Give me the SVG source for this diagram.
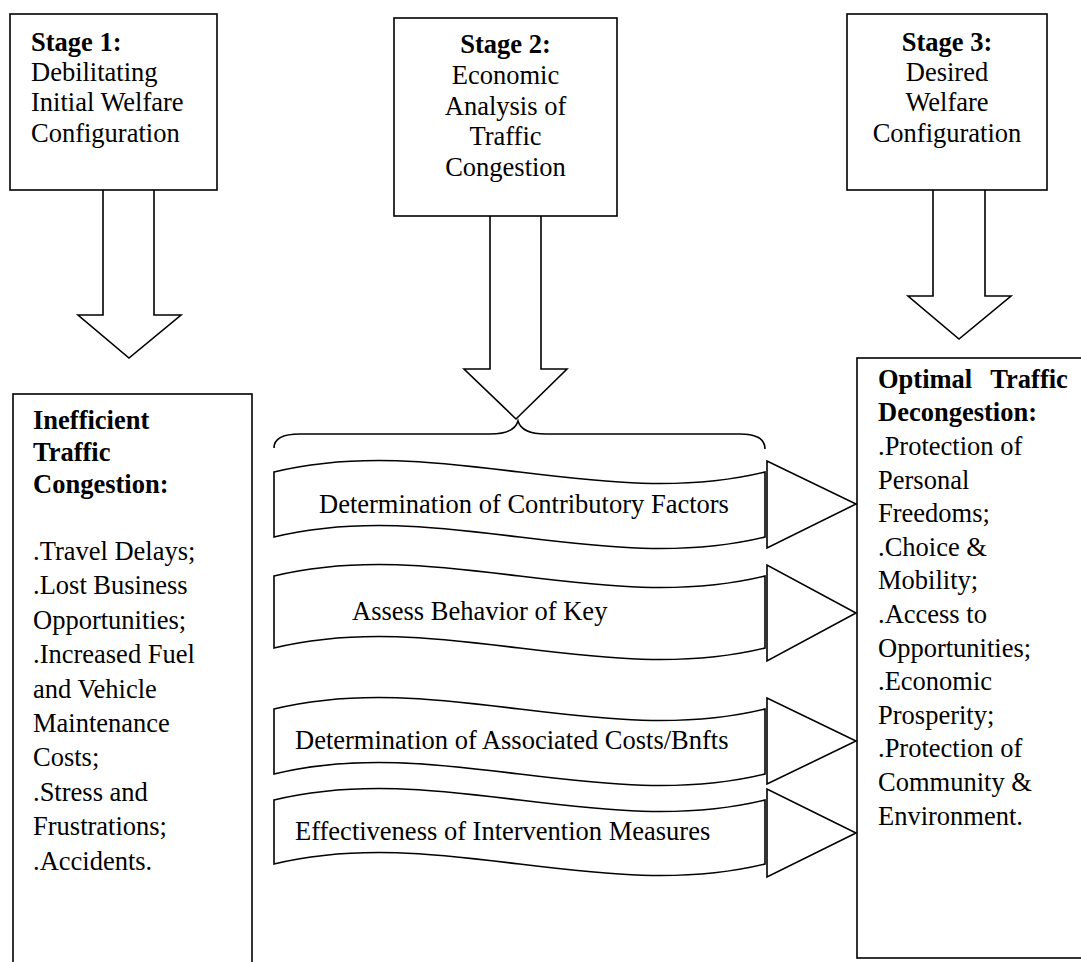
<svg xmlns="http://www.w3.org/2000/svg" width="1081" height="962" viewBox="0 0 1081 962">
<style>
.box{fill:#fff;stroke:#000;stroke-width:1.6}
.arr{fill:#fff;stroke:#000;stroke-width:1.6;stroke-linejoin:miter}
.t{font-family:"Liberation Serif","Times New Roman",serif;font-size:26.5px;fill:#000}
.b{font-weight:bold}
.c{text-anchor:middle}
</style>
<rect width="1081" height="962" fill="#fff"/>
<g id="connectors">
<polyline class="arr" points="103,190 103,315 78,315 129,358 181,315 154,315 154,190"/>
<polyline class="arr" points="490,216 490,369 464,369 516,419 567,369 541,369 541,216"/>
<polyline class="arr" points="933,190 933,296 908,296 959,339 1011,296 985,296 985,190"/>
<path class="arr" fill="none" style="fill:none" d="M274,448 C274,438 284,434 300,434 L490,434 C508,434 516,428 518,421 C520,428 528,434 546,434 L740,434 C756,434 765,438 765,449"/>
</g>
<g id="stage1">
<rect class="box" x="10" y="14" width="207" height="176"/>
<text class="t b" x="31" y="50.5">Stage 1:</text>
<text class="t" x="31" y="80.5">Debilitating</text>
<text class="t" x="31" y="111">Initial Welfare</text>
<text class="t" x="31" y="141.5">Configuration</text>
</g>
<g id="stage2">
<rect class="box" x="394" y="18" width="223" height="198"/>
<text class="t b c" x="505.5" y="53.3">Stage 2:</text>
<text class="t c" x="505.5" y="84">Economic</text>
<text class="t c" x="505.5" y="114.7">Analysis of</text>
<text class="t c" x="505.5" y="145.4">Traffic</text>
<text class="t c" x="505.5" y="176">Congestion</text>
</g>
<g id="stage3">
<rect class="box" x="847" y="14" width="200" height="176"/>
<text class="t b c" x="947" y="50.5">Stage 3:</text>
<text class="t c" x="947" y="80.5">Desired</text>
<text class="t c" x="947" y="111">Welfare</text>
<text class="t c" x="947" y="141.5">Configuration</text>
</g>
<g id="inefficient">
<rect class="box" x="13" y="394" width="239" height="590"/>
<text class="t b" x="33" y="429">Inefficient</text>
<text class="t b" x="33" y="461">Traffic</text>
<text class="t b" x="33" y="493">Congestion:</text>
<text class="t" x="33" y="560">.Travel Delays;</text>
<text class="t" x="33" y="594.4">.Lost Business</text>
<text class="t" x="33" y="628.8">Opportunities;</text>
<text class="t" x="33" y="663.2">.Increased Fuel</text>
<text class="t" x="33" y="697.6">and Vehicle</text>
<text class="t" x="33" y="732">Maintenance</text>
<text class="t" x="33" y="766.4">Costs;</text>
<text class="t" x="33" y="800.8">.Stress and</text>
<text class="t" x="33" y="835.2">Frustrations;</text>
<text class="t" x="33" y="869.6">.Accidents.</text>
</g>
<g id="optimal">
<rect class="box" x="857" y="358" width="240" height="600"/>
<text class="t b" x="878" y="388" word-spacing="12">Optimal Traffic</text>
<text class="t b" x="878" y="421">Decongestion:</text>
<text class="t" x="878" y="455">.Protection of</text>
<text class="t" x="878" y="488.6">Personal</text>
<text class="t" x="878" y="522.2">Freedoms;</text>
<text class="t" x="878" y="555.8">.Choice &amp;</text>
<text class="t" x="878" y="589.4">Mobility;</text>
<text class="t" x="878" y="623">.Access to</text>
<text class="t" x="878" y="656.6">Opportunities;</text>
<text class="t" x="878" y="690.2">.Economic</text>
<text class="t" x="878" y="723.8">Prosperity;</text>
<text class="t" x="878" y="757.4">.Protection of</text>
<text class="t" x="878" y="791">Community &amp;</text>
<text class="t" x="878" y="824.6">Environment.</text>
</g>
<g id="factor1">
<path class="box" d="M274,472 C438,432 601,512 765,472 L765,537 C601,577 438,497 274,537 Z"/>
<polygon class="arr" points="767,461 767,548 856,504"/>
<text class="t" x="319" y="512.7">Determination of Contributory Factors</text>
</g>
<g id="factor2">
<path class="box" d="M274,576 C438,536 601,616 765,576 L765,648 C601,688 438,608 274,648 Z"/>
<polygon class="arr" points="767,565 767,661 856,613"/>
<text class="t" x="352" y="620">Assess Behavior of Key</text>
</g>
<g id="factor3">
<path class="box" d="M274,709 C438,669 601,749 765,709 L765,774 C601,814 438,734 274,774 Z"/>
<polygon class="arr" points="767,698 767,784 856,741"/>
<text class="t" x="295" y="749">Determination of Associated Costs/Bnfts</text>
</g>
<g id="factor4">
<path class="box" d="M274,800 C438,760 601,840 765,800 L765,864 C601,904 438,824 274,864 Z"/>
<polygon class="arr" points="767,789 767,877 856,833"/>
<text class="t" x="295" y="840">Effectiveness of Intervention Measures</text>
</g>
</svg>
